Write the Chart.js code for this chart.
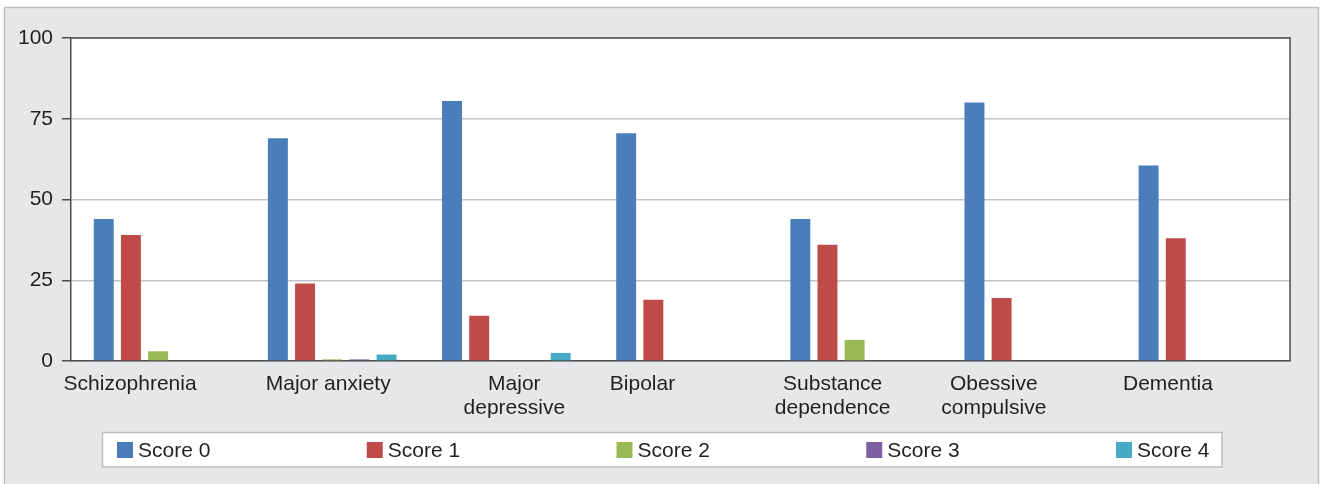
<!DOCTYPE html>
<html>
<head>
<meta charset="utf-8">
<script src="https://cdn.jsdelivr.net/npm/chart.js@4"></script>
<style>
  html, body { margin: 0; padding: 0; background: #ffffff; }
  #wrap { position: relative; width: 1320px; height: 484px; }
</style>
</head>
<body>
<div id="wrap"><canvas id="chart" width="1320" height="484"></canvas></div>
<script>
// Diagnoses along the x axis (multi-line where the label wraps)
const categories = [
  ["Schizophrenia"],
  ["Major anxiety"],
  ["Major", "depressive"],
  ["Bipolar"],
  ["Substance", "dependence"],
  ["Obessive", "compulsive"],
  ["Dementia"]
];

// Percentage of patients per score, one array per series
const score0 = [44, 69, 80.5, 70.5, 44, 80, 60.5];
const score1 = [39, 24, 14, 19, 36, 19.5, 38];
const score2 = [3, 0.5, 0, 0, 6.5, 0, 0];
const score3 = [0, 0.5, 0, 0, 0, 0, 0];
const score4 = [0, 2, 2.5, 0, 0, 0, 0];

const seriesNames = ["Score 0", "Score 1", "Score 2", "Score 3", "Score 4"];
const seriesValues = [score0, score1, score2, score3, score4];
const seriesColors = ["#4a7ebb", "#be4b48", "#98b954", "#7d60a0", "#46aac5"];

const yTickValues = [0, 25, 50, 75, 100];

const FONT = "'Liberation Sans', Arial, Helvetica, sans-serif";
const TEXT = "#231f20";
const AXIS = "#4d4d4f";

// Horizontal nudge of each category caption from its category centre
const captionShift = [-28, -4, 8, -38, -22, -35, -35];

// Frame, plot-area fill and outline
const framePlugin = {
  id: "frame",
  beforeDraw(chart) {
    const { ctx, chartArea: a } = chart;
    ctx.save();
    ctx.fillStyle = "#ffffff";
    ctx.fillRect(0, 0, chart.width, chart.height);
    ctx.fillStyle = "#e6e7e8";
    ctx.fillRect(4, 7, 1314, 490);
    ctx.strokeStyle = "#bcbec0";
    ctx.lineWidth = 1.5;
    ctx.strokeRect(4.5, 7.5, 1314, 490);
    ctx.fillStyle = "#ffffff";
    ctx.fillRect(a.left, a.top, a.right - a.left, a.bottom - a.top);
    ctx.restore();
  },
  afterDatasetsDraw(chart) {
    const { ctx, chartArea: a } = chart;
    ctx.save();
    ctx.strokeStyle = AXIS;
    ctx.lineWidth = 1.5;
    ctx.beginPath();
    ctx.moveTo(a.left, a.top);
    ctx.lineTo(a.right, a.top);
    ctx.lineTo(a.right, a.bottom);
    ctx.stroke();
    ctx.restore();
  }
};

// Category captions under the x axis
const captionPlugin = {
  id: "captions",
  afterDraw(chart) {
    const { ctx } = chart;
    const xs = chart.scales.x;
    const base = chart.chartArea.bottom;
    ctx.save();
    ctx.font = "21px " + FONT;
    ctx.fillStyle = TEXT;
    ctx.textAlign = "center";
    ctx.textBaseline = "alphabetic";
    chart.data.labels.forEach((lab, i) => {
      const lines = Array.isArray(lab) ? lab : [lab];
      const cx = xs.getPixelForValue(i) + captionShift[i];
      lines.forEach((line, j) => {
        ctx.fillText(line, cx, base + 29 + j * 23.5);
      });
    });
    ctx.restore();
  }
};

// Boxed legend with evenly spaced entries
const legendPlugin = {
  id: "boxLegend",
  afterDraw(chart) {
    const { ctx } = chart;
    const box = { left: 102.5, top: 432.5, right: 1222, bottom: 467 };
    ctx.save();
    ctx.fillStyle = "#ffffff";
    ctx.fillRect(box.left, box.top, box.right - box.left, box.bottom - box.top);
    ctx.strokeStyle = "#bcbec0";
    ctx.lineWidth = 1.5;
    ctx.strokeRect(box.left, box.top, box.right - box.left, box.bottom - box.top);
    ctx.font = "21px " + FONT;
    ctx.textAlign = "left";
    ctx.textBaseline = "middle";
    chart.data.datasets.forEach((ds, i) => {
      const x = 117 + i * 249.75;
      ctx.fillStyle = ds.backgroundColor;
      ctx.fillRect(x, 442, 16, 16);
      ctx.fillStyle = TEXT;
      ctx.fillText(ds.label, x + 21, 451);
    });
    ctx.restore();
  }
};

new Chart(document.getElementById("chart"), {
  type: "bar",
  data: {
    labels: categories,
    datasets: seriesNames.map((name, i) => ({
      label: name,
      data: seriesValues[i],
      backgroundColor: seriesColors[i],
      borderWidth: 0,
      categoryPercentage: 0.78,
      barPercentage: 0.735
    }))
  },
  options: {
    responsive: false,
    animation: false,
    devicePixelRatio: 1,
    layout: { padding: { left: 0, top: 38, right: 30, bottom: 0 } },
    plugins: {
      legend: { display: false },
      tooltip: { enabled: false }
    },
    scales: {
      x: {
        grid: { display: false, drawTicks: false },
        border: { display: true, color: AXIS, width: 1.5 },
        ticks: { display: false },
        afterFit(scale) { scale.height = 123; }
      },
      y: {
        min: 0,
        max: 100,
        afterBuildTicks(scale) { scale.ticks = yTickValues.map(v => ({ value: v })); },
        grid: { color: "#c2c3c5", lineWidth: 1.5, tickLength: 9, tickColor: AXIS, tickWidth: 1.5 },
        border: { display: true, color: AXIS, width: 1.5 },
        ticks: {
          padding: 9,
          color: TEXT,
          font: { family: FONT, size: 21 }
        },
        afterFit(scale) { scale.width = 71; }
      }
    }
  },
  plugins: [framePlugin, captionPlugin, legendPlugin]
});
</script>
</body>
</html>
